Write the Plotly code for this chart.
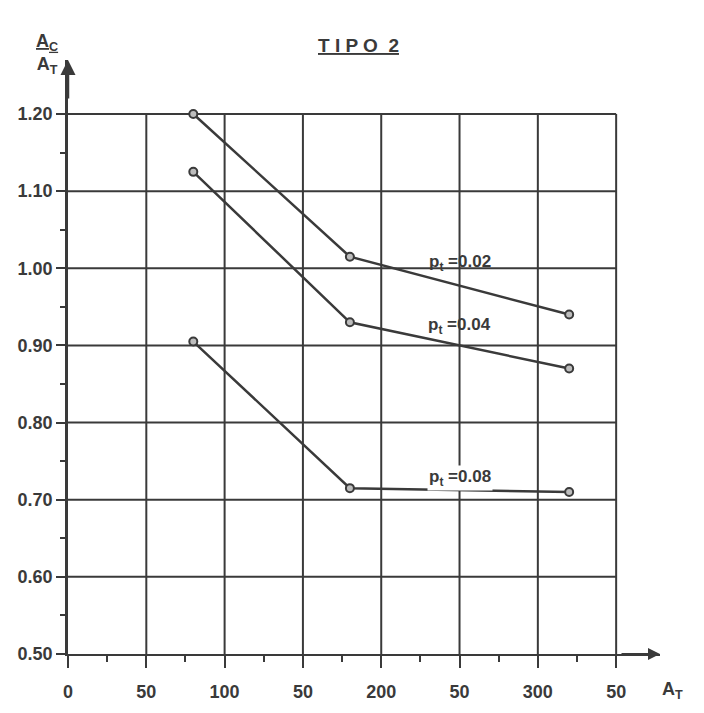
import plotly.graph_objects as go

# ---- data ----
a_t = [80, 180, 320]
series_names = ["0.02", "0.04", "0.08"]
ratio_002 = [1.20, 1.015, 0.94]
ratio_004 = [1.125, 0.93, 0.87]
ratio_008 = [0.905, 0.715, 0.71]
x_tick_vals = [0, 50, 100, 150, 200, 250, 300, 350]
x_tick_text = ["0", "50", "100", "50", "200", "50", "300", "50"]
y_tick_vals = [0.50, 0.60, 0.70, 0.80, 0.90, 1.00, 1.10, 1.20]
y_tick_text = ["0.50", "0.60", "0.70", "0.80", "0.90", "1.00", "1.10", "1.20"]
label_pos = [(250, 1.007), (250, 0.925), (250, 0.728)]

INK = "#3a3a3a"
FONT = "Liberation Sans, Arial, sans-serif"

fig = go.Figure()

# grid drawn only inside the graph area (0..350, 0.50..1.20)
x_max = x_tick_vals[-1]
y_min, y_max = y_tick_vals[0], y_tick_vals[-1]
shapes = []
for v in x_tick_vals[1:]:
    shapes.append(dict(type="line", x0=v, x1=v, y0=y_min, y1=y_max,
                       line=dict(color=INK, width=2), layer="below"))
for v in y_tick_vals[1:]:
    shapes.append(dict(type="line", x0=0, x1=x_max, y0=v, y1=v,
                       line=dict(color=INK, width=2), layer="below"))

for ys, name in zip([ratio_002, ratio_004, ratio_008], series_names):
    fig.add_trace(go.Scatter(
        x=a_t, y=ys, mode="lines+markers", name=name,
        line=dict(color=INK, width=2.5),
        marker=dict(symbol="circle", size=8, color="#bdbdbd",
                    line=dict(color=INK, width=2)),
        showlegend=False))

annotations = []
for (lx, ly), name in zip(label_pos, series_names):
    annotations.append(dict(
        x=lx, y=ly, xref="x", yref="y", showarrow=False,
        text=f"p<sub>t</sub> =" + name,
        font=dict(family=FONT, size=17, color=INK, weight="bold"),
        bgcolor="white" if name == "0.08" else "rgba(0,0,0,0)",
        xanchor="center", yanchor="middle"))

# axis arrows
annotations.append(dict(x=0, y=1.27, xref="x", yref="y", ax=0, ay=40,
                        showarrow=True, arrowhead=2, arrowsize=1.2,
                        arrowwidth=2.5, arrowcolor=INK, text=""))
annotations.append(dict(x=378, y=0.50, xref="x", yref="y", ax=-40, ay=0,
                        showarrow=True, arrowhead=2, arrowsize=1.2,
                        arrowwidth=2, arrowcolor=INK, text=""))
# axis titles
annotations.append(dict(x=0, y=1, xref="paper", yref="paper", xshift=-8,
                        yshift=6, showarrow=False, xanchor="right",
                        yanchor="middle",
                        text="<u>A<sub>C</sub></u><br>A<sub>T</sub>",
                        font=dict(family=FONT, size=18, color=INK,
                                  weight="bold")))
annotations.append(dict(x=1, y=0, xref="paper", yref="paper", xshift=0,
                        yshift=-36, showarrow=False, xanchor="left",
                        yanchor="middle", text="A<sub>T</sub>",
                        font=dict(family=FONT, size=18, color=INK,
                                  weight="bold")))
# title
annotations.append(dict(x=0.5, y=1, xref="paper", yref="paper",
                        xshift=-6, yshift=15, showarrow=False,
                        yanchor="middle",
                        text="<u>T I P O  2</u>",
                        font=dict(family=FONT, size=19, color=INK,
                                  weight="bold")))

tick_font = dict(family=FONT, size=18, color=INK, weight="bold")

fig.update_layout(
    width=704, height=713,
    margin=dict(l=68, r=44, t=60, b=59),
    paper_bgcolor="white", plot_bgcolor="white",
    shapes=shapes, annotations=annotations,
    font=dict(family=FONT, color=INK),
    xaxis=dict(range=[0, 378], tickvals=x_tick_vals, ticktext=x_tick_text,
               showgrid=False, zeroline=False, showline=True,
               linecolor=INK, linewidth=2,
               ticks="outside", ticklen=12, tickwidth=2, tickcolor=INK,
               ticklabelstandoff=8,
               minor=dict(tickvals=[25, 75, 125, 175, 225, 275, 325],
                          ticks="outside", ticklen=6, tickwidth=1.5,
                          tickcolor=INK, showgrid=False),
               tickfont=tick_font),
    yaxis=dict(range=[0.5, 1.27], tickvals=y_tick_vals, ticktext=y_tick_text,
               showgrid=False, zeroline=False, showline=True,
               linecolor=INK, linewidth=2.5,
               ticks="outside", ticklen=9, tickwidth=2, tickcolor=INK,
               minor=dict(tickvals=[0.55, 0.65, 0.75, 0.85, 0.95, 1.05, 1.15],
                          ticks="outside", ticklen=5, tickwidth=1.5,
                          tickcolor=INK, showgrid=False),
               tickfont=tick_font),
)

fig.write_html("out.html")
